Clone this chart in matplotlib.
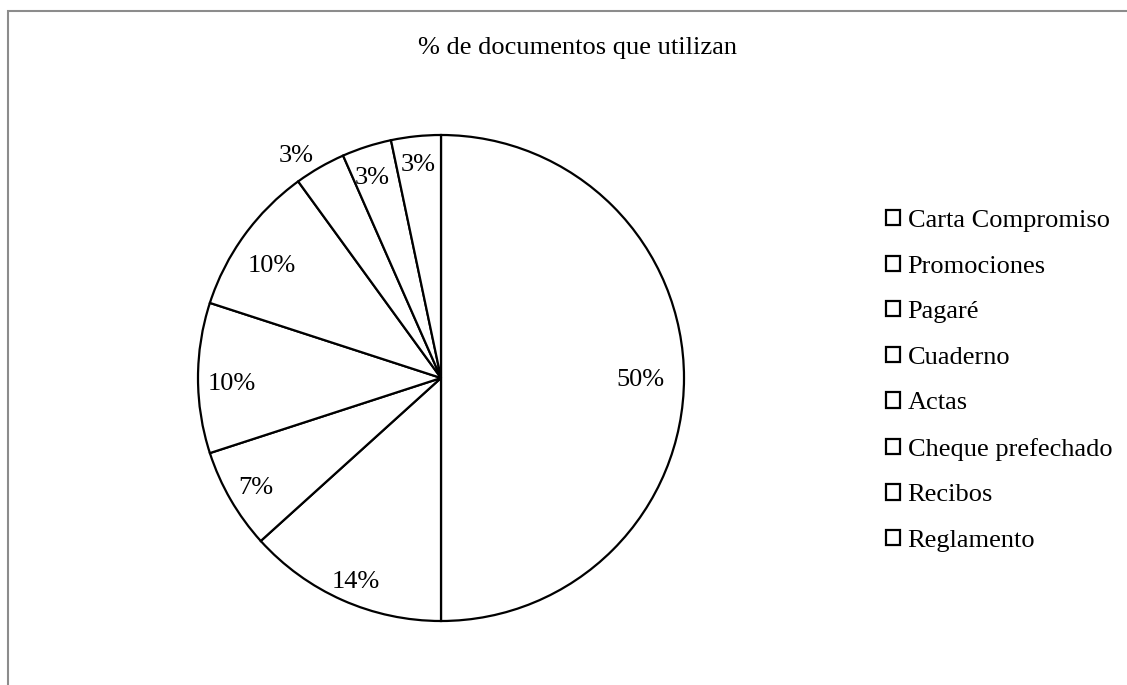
import matplotlib
matplotlib.use("Agg")
import matplotlib.pyplot as plt
from matplotlib.patches import Rectangle
import numpy as np

categorias = ["Carta Compromiso", "Promociones", "Pagaré", "Cuaderno", "Actas",
              "Cheque prefechado", "Recibos", "Reglamento"]
# slice sizes as drawn (the angles match 15/30, 4/30, 2/30, ...)
porcentajes = [50, 13.3, 6.7, 10, 10, 3.4, 3.3, 3.3]
etiquetas = ["50%", "14%", "7%", "10%", "10%", "3%", "3%", "3%"]

plt.rcParams['font.family'] = ['Liberation Serif', 'DejaVu Serif']

W, H = 1127, 685
fig = plt.figure(figsize=(W / 100, H / 100), dpi=100)

# pie centre (441, 378) px, radius 243 px
cx, cy, r = 441, 378, 243
ax = fig.add_axes([(cx - r) / W, (H - cy - r) / H, 2 * r / W, 2 * r / H])

wedges, textos = ax.pie(porcentajes, startangle=90, counterclock=False,
                        colors=["white"] * len(porcentajes),
                        wedgeprops=dict(edgecolor="black", linewidth=1.6))
ax.set_xlim(-1, 1)
ax.set_ylim(-1, 1)
ax.set_aspect("equal")

# distance of each label from the centre (fraction of radius)
dist = [0.82, 0.90, 0.88, 0.86, 0.84, 1.10, 0.88, 0.89]
ajuste = [0, 1, 0, 1, 2, 3, 1, 0]  # degrees
for w, lab, d, a in zip(wedges, etiquetas, dist, ajuste):
    ang = np.deg2rad((w.theta1 + w.theta2) / 2 + a)
    ax.text(d * np.cos(ang), d * np.sin(ang) - 0.01, lab, ha="center",
            va="center", fontsize=19)

fig.text(577 / W, 1 - 48 / H, "% de documentos que utilizan", ha="center",
         va="center", fontsize=19)

fig.legend(wedges, categorias, loc="upper left",
           bbox_to_anchor=(886 / W, 1 - 210 / H), frameon=False,
           fontsize=19, handlelength=0.52, handleheight=0.52,
           handletextpad=0.3, labelspacing=0.89, borderaxespad=0,
           borderpad=0)

fig.add_artist(Rectangle((7.5 / W, -0.1), 2, (H - 11.5) / H + 0.1,
                         transform=fig.transFigure, fill=False,
                         edgecolor="#8c8c8c", linewidth=1.5))

fig.savefig("out.png", dpi=100)
